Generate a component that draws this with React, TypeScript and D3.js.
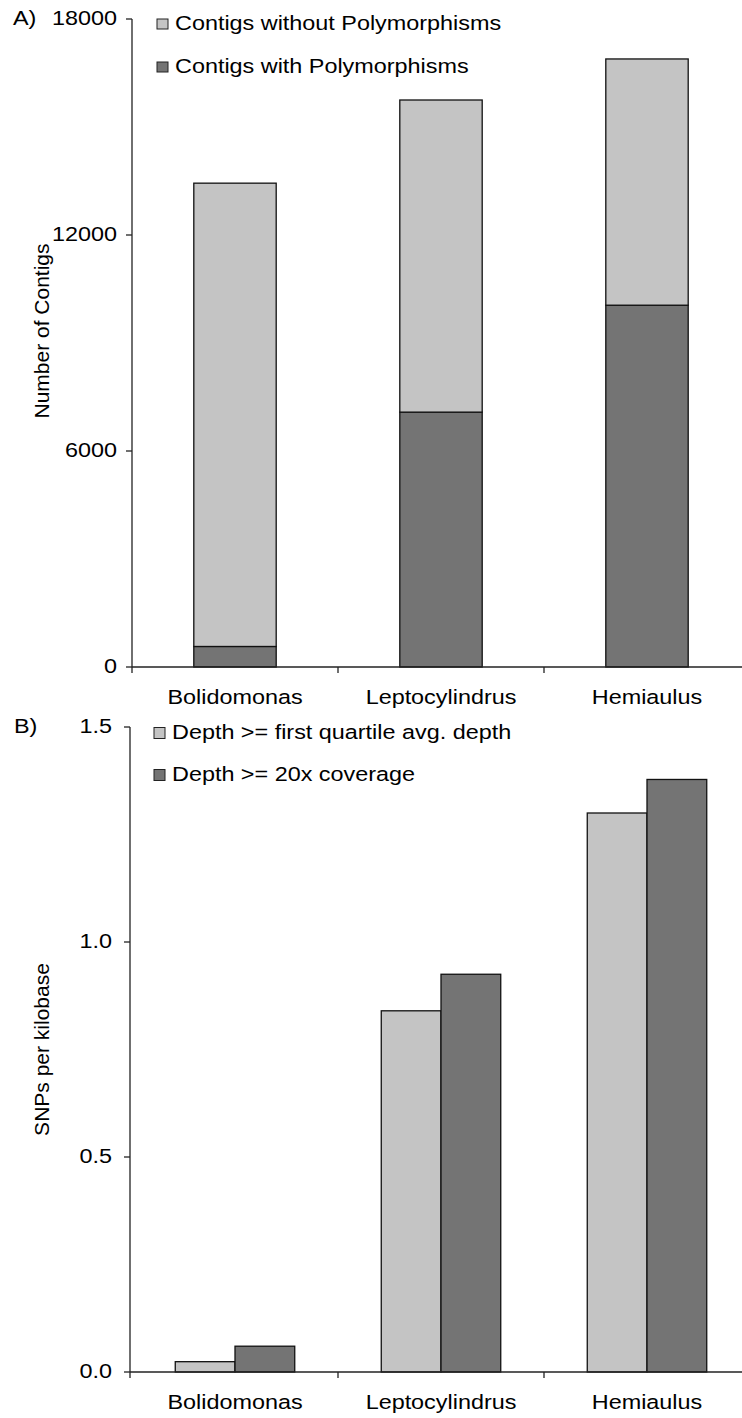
import React from "react";
import * as d3 from "d3";

const categories = ["Bolidomonas", "Leptocylindrus", "Hemiaulus"];
// Panel A (stacked)
const contigsWith = [570, 7080, 10050];
const contigsWithout = [12870, 8670, 6840];
const seriesA = ["Contigs without Polymorphisms", "Contigs with Polymorphisms"];
const ticksA = [0, 6000, 12000, 18000];
// Panel B (grouped)
const seriesB = ["Depth >= first quartile avg. depth", "Depth >= 20x coverage"];
const depthQuartile = [0.024, 0.84, 1.3];
const depth20x = [0.06, 0.925, 1.378];
const ticksB = [0, 0.5, 1.0, 1.5];

const LIGHT = "#c4c4c4";
const DARK = "#747474";
const FONT = "Arial, 'Liberation Sans', sans-serif";
const FS = 19.5;
const SX = 1.2; // horizontal stretch of the original figure

function T(props: { x: number; y: number; anchor?: "start" | "middle" | "end"; rotate?: boolean; children: React.ReactNode }) {
  const { x, y, anchor = "start", rotate = false, children } = props;
  const tr = rotate ? `translate(${x},${y}) rotate(-90)` : `translate(${x},${y}) scale(${SX},1)`;
  return (
    <g transform={tr}>
      <text x={0} y={0} textAnchor={anchor} dominantBaseline="central" fontFamily={FONT} fontSize={rotate ? 21 : FS} fill="#000">
        {children}
      </text>
    </g>
  );
}

export default function App() {
  const W = 742;
  const H = 1418;

  // Panel A scales
  const axA = 132;
  const xA = d3.scaleBand<string>().domain(categories).range([axA, axA + 618]).padding(0);
  const yA = d3.scaleLinear().domain([0, 18000]).range([667, 19]);
  const barWA = xA.bandwidth() * 0.4;
  const stack = d3.stack<any>().keys(["with", "without"])(
    categories.map((c, i) => ({ cat: c, with: contigsWith[i], without: contigsWithout[i] }))
  );

  // Panel B scales
  const axB = 130;
  const xB = d3.scaleBand<string>().domain(categories).range([axB + 2, axB + 620]).padding(0);
  const yB = d3.scaleLinear().domain([0, 1.5]).range([1372, 727]);
  const pairW = xB.bandwidth() * 0.58;
  const xInner = d3.scaleBand<number>().domain([0, 1]).range([0, pairW]).padding(0);
  const seriesBVals = [depthQuartile, depth20x];

  return (
    <svg width={W} height={H} style={{ position: "absolute", left: 0, top: 0, background: "#fff" }}>
      {/* Panel A */}
      <T x={13} y={yA(18000)}>A)</T>
      {stack.map((layer, li) =>
        layer.map((d, i) => {
          const cx = (xA(categories[i]) as number) + xA.bandwidth() / 2;
          return (
            <rect
              key={`a-${li}-${i}`}
              x={cx - barWA / 2}
              y={yA(d[1])}
              width={barWA}
              height={yA(d[0]) - yA(d[1])}
              fill={li === 0 ? DARK : LIGHT}
              stroke="#111"
              strokeWidth={1.3}
            />
          );
        })
      )}
      <line x1={axA} x2={axA} y1={yA(18000)} y2={yA(0)} stroke="#222" strokeWidth={1.3} />
      <line x1={axA} x2={W} y1={yA(0)} y2={yA(0)} stroke="#222" strokeWidth={1.3} />
      {ticksA.map((t) => (
        <g key={`ta-${t}`}>
          <line x1={axA - 6} x2={axA} y1={yA(t)} y2={yA(t)} stroke="#222" strokeWidth={1.3} />
          <T x={axA - 15} y={yA(t)} anchor="end">{t}</T>
        </g>
      ))}
      {categories.map((c) => (
        <g key={`xa-${c}`}>
          <line x1={xA(c) as number} x2={xA(c) as number} y1={yA(0)} y2={yA(0) + 6} stroke="#222" strokeWidth={1.3} />
          <T x={(xA(c) as number) + xA.bandwidth() / 2} y={698} anchor="middle">{c}</T>
        </g>
      ))}
      <T x={41} y={(yA(0) + yA(18000)) / 2 - 12} anchor="middle" rotate>Number of Contigs</T>
      {seriesA.map((s, i) => (
        <g key={`la-${s}`}>
          <rect x={157} y={24 + i * 43 - 5} width={11} height={10} fill={i === 0 ? LIGHT : DARK} stroke="#222" strokeWidth={1} />
          <T x={175} y={24 + i * 43}>{s}</T>
        </g>
      ))}

      {/* Panel B */}
      <T x={14} y={yB(1.5)}>B)</T>
      {categories.map((c, i) => {
        const x0 = (xB(c) as number) + xB.bandwidth() / 2 - pairW / 2;
        return seriesBVals.map((vals, si) => (
          <rect
            key={`b-${si}-${i}`}
            x={x0 + (xInner(si) as number)}
            y={yB(vals[i])}
            width={xInner.bandwidth()}
            height={yB(0) - yB(vals[i])}
            fill={si === 0 ? LIGHT : DARK}
            stroke="#111"
            strokeWidth={1.3}
          />
        ));
      })}
      <line x1={axB} x2={axB} y1={yB(1.5)} y2={yB(0) + 6} stroke="#222" strokeWidth={1.3} />
      <line x1={axB} x2={W} y1={yB(0)} y2={yB(0)} stroke="#222" strokeWidth={1.3} />
      {ticksB.map((t) => (
        <g key={`tb-${t}`}>
          <line x1={axB - 6} x2={axB} y1={yB(t)} y2={yB(t)} stroke="#222" strokeWidth={1.3} />
          <T x={axB - 18} y={yB(t)} anchor="end">{t.toFixed(1)}</T>
        </g>
      ))}
      {categories.map((c, i) => (
        <g key={`xb-${c}`}>
          {i > 0 && (
            <line x1={xB(c) as number} x2={xB(c) as number} y1={yB(0)} y2={yB(0) + 6} stroke="#222" strokeWidth={1.3} />
          )}
          <T x={(xB(c) as number) + xB.bandwidth() / 2} y={1403} anchor="middle">{c}</T>
        </g>
      ))}
      <T x={41} y={(yB(0) + yB(1.5)) / 2} anchor="middle" rotate>SNPs per kilobase</T>
      {seriesB.map((s, i) => (
        <g key={`lb-${s}`}>
          <rect x={154} y={733 + i * 42 - 5.5} width={11} height={11} fill={i === 0 ? LIGHT : DARK} stroke="#222" strokeWidth={1} />
          <T x={172} y={733 + i * 42}>{s}</T>
        </g>
      ))}
    </svg>
  );
}
